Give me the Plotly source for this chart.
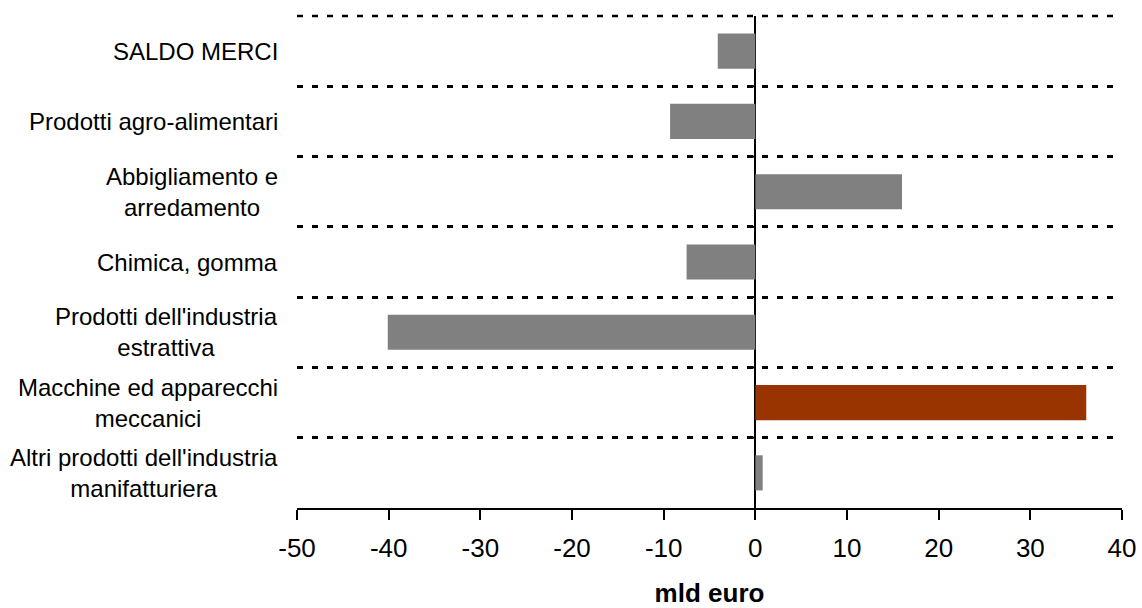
import plotly.graph_objects as go

categories = [
    "SALDO MERCI",
    "Prodotti agro-alimentari",
    "Abbigliamento e<br>arredamento",
    "Chimica, gomma",
    "Prodotti dell'industria<br>estrattiva",
    "Macchine ed apparecchi<br>meccanici",
    "Altri prodotti dell'industria<br>manifatturiera",
]
values = [-4.1, -9.3, 16.0, -7.5, -40.1, 36.1, 0.8]
highlight = "Macchine ed apparecchi<br>meccanici"
tick_values = [-50, -40, -30, -20, -10, 0, 10, 20, 30, 40]
tick_labels = ["-50", "-40", "-30", "-20", "-10", "0", "10", "20", "30", "40"]

GRAY = "#808080"
RUST = "#993300"
colors = [RUST if c == highlight else GRAY for c in categories]
FONT = "Liberation Sans, Arial, sans-serif"
DASH = "6px,9px"

fig = go.Figure()
fig.add_trace(go.Bar(
    x=values, y=categories, orientation="h",
    marker=dict(color=colors, line=dict(width=0)),
    width=0.5, hoverinfo="x+y",
))

# category labels (centered multi-line text, right-aligned block)
for c in categories:
    fig.add_annotation(
        x=0, xref="paper", y=c, yref="y", text=c, showarrow=False,
        xanchor="right", align="center", xshift=-17,
        font=dict(family=FONT, size=24, color="black"),
    )

# small tick marks on the zero line at category boundaries
for i in range(len(categories) - 1):
    fig.add_shape(
        type="line", xref="x", yref="y", xsizemode="pixel", xanchor=0,
        x0=-6, x1=0, y0=i + 0.5, y1=i + 0.5,
        line=dict(color="black", width=2),
    )

# top dashed boundary line
fig.add_shape(
    type="line", xref="paper", yref="paper", x0=0, x1=1, y0=1, y1=1,
    line=dict(color="black", width=2.5, dash=DASH), layer="below",
)

fig.update_layout(
    width=1142, height=608,
    margin=dict(l=297, r=20, t=16, b=100, autoexpand=False),
    paper_bgcolor="white", plot_bgcolor="white",
    showlegend=False,
    font=dict(family=FONT, color="black"),
    bargap=0.5,
)
fig.update_xaxes(
    range=[-50, 40], tickvals=tick_values, ticktext=tick_labels,
    ticks="outside", ticklen=10, ticklabelstandoff=6,
    tickwidth=2, tickcolor="black", showline=True, linecolor="black",
    linewidth=2, showgrid=False, zeroline=True, zerolinecolor="black",
    zerolinewidth=2, tickfont=dict(family=FONT, size=26, color="black"),
    title=dict(text="<b>mld euro</b>", font=dict(family=FONT, size=26, color="black"),
               standoff=23),
    automargin=False, fixedrange=True,
)
fig.update_yaxes(
    autorange="reversed", tickson="boundaries", showticklabels=False,
    ticks="", showline=False, showgrid=True, gridcolor="black",
    gridwidth=2.5, griddash=DASH, zeroline=False, automargin=False,
    fixedrange=True,
)

fig.write_html(
    "out.html",
    config={"displayModeBar": False},
    post_script="document.body.style.margin='0';document.body.style.overflow='hidden';",
)
